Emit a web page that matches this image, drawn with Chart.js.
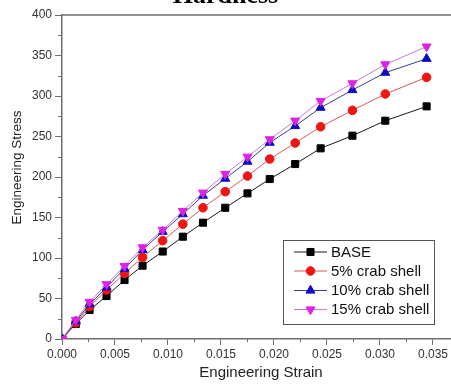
<!DOCTYPE html>
<html>
<head>
<meta charset="utf-8">
<script src="https://cdn.jsdelivr.net/npm/chart.js@4.4.1/dist/chart.umd.min.js"></script>
<style>
  html, body { margin: 0; padding: 0; background: #fff; }
  #wrap { width: 451px; height: 385px; position: relative; }
</style>
</head>
<body>
<div id="wrap"><canvas id="c" width="451" height="385"></canvas></div>
<script>
// Strain readings shared by every specimen
const strain = [0, 0.0013, 0.0026, 0.0042, 0.0059, 0.0076, 0.0095, 0.0114, 0.0133,
                0.0154, 0.0175, 0.0196, 0.0220, 0.0244, 0.0274, 0.0305, 0.0344];

// Engineering stress for each mix
const base    = [0, 18.5, 35.8, 53, 72.8, 90.5, 108, 126.3, 143.6, 162, 179.8, 197.5, 216, 235.4, 251, 269.5, 287.2];
const crab5   = [0, 20, 40, 60.5, 81, 100.8, 121.4, 141.8, 162, 181.9, 201.2, 222.2, 242, 262, 282.3, 302.5, 323];
const crab10  = [0, 21.8, 42.8, 63.8, 86.8, 109.9, 132.5, 154.2, 177, 198, 219, 242.4, 263, 285.6, 307.4, 328.8, 346];
const crab15  = [0, 23.5, 45.7, 67.5, 90, 113, 134.6, 158, 180.6, 203.7, 225, 246.5, 269.5, 293.8, 315.6, 339, 361];

// Axis tick values
const xTicks = [0, 0.005, 0.010, 0.015, 0.020, 0.025, 0.030, 0.035];
const yTicks = [0, 50, 100, 150, 200, 250, 300, 350, 400];

const seriesNames = ['BASE', '5% crab shell', '10% crab shell', '15% crab shell'];
const titleText = 'Hardness';
const xTitle = 'Engineering Strain';
const yTitle = 'Engineering Stress';

const pts = arr => arr.map((v, i) => ({ x: strain[i], y: v }));

const styles = [
  { line: '#1a1a1a', fill: '#000000', shape: 'rect',     r: 5,   rot: 0 },
  { line: '#d85a5a', fill: '#ee1515', shape: 'circle',   r: 4.3, rot: 0 },
  { line: '#3a4090', fill: '#0b0bc8', shape: 'triangle', r: 5.2, rot: 0 },
  { line: '#c47ad0', fill: '#e020e6', shape: 'triangle', r: 5.2, rot: 180 }
];
const values = [base, crab5, crab10, crab15];

const datasets = values.map((v, i) => ({
  label: seriesNames[i],
  data: pts(v),
  borderColor: styles[i].line,
  borderWidth: 1,
  pointStyle: styles[i].shape,
  pointRotation: styles[i].rot,
  pointRadius: styles[i].r,
  pointBackgroundColor: styles[i].fill,
  pointBorderColor: styles[i].fill,
  pointBorderWidth: 1,
  tension: 0,
  order: 4 - i
}));

const AXIS = '#6e6e6e';
const FONT = 'Liberation Sans, Arial, sans-serif';

// Frame, minor ticks, titles and the boxed legend
const decor = {
  id: 'decor',
  afterDraw(chart) {
    const ctx = chart.ctx;
    const a = chart.chartArea;
    const xs = chart.scales.x, ys = chart.scales.y;
    ctx.save();
    // top frame line
    ctx.strokeStyle = AXIS;
    ctx.lineWidth = 1.5;
    ctx.beginPath();
    ctx.moveTo(a.left, a.top);
    ctx.lineTo(a.right, a.top);
    ctx.stroke();
    // minor ticks halfway between the labelled ones
    ctx.lineWidth = 1;
    ctx.beginPath();
    for (let i = 0; i < xTicks.length; i++) {
      const v = xTicks[i] + 0.0025;
      if (v >= xs.max) break;
      const px = Math.round(xs.getPixelForValue(v)) + 0.5;
      ctx.moveTo(px, a.bottom);
      ctx.lineTo(px, a.bottom + 3);
    }
    for (let i = 0; i < yTicks.length - 1; i++) {
      const py = Math.round(ys.getPixelForValue(yTicks[i] + 25)) + 0.5;
      ctx.moveTo(a.left, py);
      ctx.lineTo(a.left - 4, py);
    }
    ctx.stroke();

    // chart heading
    ctx.fillStyle = '#000';
    ctx.font = 'bold 26px "Liberation Serif", "Times New Roman", serif';
    ctx.textAlign = 'center';
    ctx.textBaseline = 'alphabetic';
    ctx.fillText(titleText, 225.5, 3);

    // axis titles
    ctx.fillStyle = '#222';
    ctx.font = '15px ' + FONT;
    ctx.fillText(xTitle, 261, 377);
    ctx.save();
    ctx.translate(21, 167.5);
    ctx.rotate(-Math.PI / 2);
    ctx.font = '13.5px ' + FONT;
    ctx.fillText(yTitle, 0, 0);
    ctx.restore();

    // legend box
    const lx = 283, ly = 240, lw = 151, lh = 84;
    ctx.fillStyle = '#fff';
    ctx.fillRect(lx, ly, lw, lh);
    ctx.strokeStyle = '#555';
    ctx.lineWidth = 1;
    ctx.strokeRect(lx + 0.5, ly + 0.5, lw, lh);
    const rows = [252, 271, 290.5, 309.5];
    chart.data.datasets.forEach((ds, i) => {
      const y = rows[i];
      ctx.strokeStyle = ds.borderColor;
      ctx.lineWidth = 1;
      ctx.beginPath();
      ctx.moveTo(294, y);
      ctx.lineTo(327, y);
      ctx.stroke();
      ctx.fillStyle = ds.pointBackgroundColor;
      ctx.strokeStyle = ds.pointBorderColor;
      Chart.helpers.drawPoint(ctx, {
        pointStyle: ds.pointStyle,
        rotation: ds.pointRotation,
        radius: ds.pointRadius,
        borderWidth: 1
      }, 310.5, y);
      ctx.fillStyle = '#111';
      ctx.font = '15px ' + FONT;
      ctx.textAlign = 'left';
      ctx.textBaseline = 'middle';
      ctx.fillText(ds.label, 331, y + 0.5);
    });
    ctx.restore();
  }
};

new Chart(document.getElementById('c'), {
  type: 'line',
  data: { datasets },
  options: {
    responsive: false,
    animation: false,
    layout: { autoPadding: false, padding: { top: 15, right: 0, left: 0, bottom: 0 } },
    plugins: { legend: { display: false }, tooltip: { enabled: false }, title: { display: false } },
    scales: {
      x: {
        type: 'linear',
        min: 0,
        max: 0.0367,
        afterBuildTicks(s) { s.ticks = xTicks.map(v => ({ value: v })); },
        afterFit(s) { s.height = 46; s.paddingLeft = 0; s.paddingRight = 0; },
        border: { display: true, color: AXIS, width: 1.5 },
        grid: { display: true, drawOnChartArea: false, drawTicks: true, tickLength: 6, tickColor: AXIS },
        ticks: {
          padding: 2,
          color: '#333',
          font: { family: FONT, size: 12 },
          maxRotation: 0,
          autoSkip: false,
          callback: v => Number(v).toFixed(3)
        }
      },
      y: {
        min: 0,
        max: 400,
        afterBuildTicks(s) { s.ticks = yTicks.map(v => ({ value: v })); },
        afterFit(s) { s.width = 62; s.paddingTop = 0; s.paddingBottom = 0; },
        border: { display: true, color: AXIS, width: 1.5 },
        grid: { display: true, drawOnChartArea: false, drawTicks: true, tickLength: 7, tickColor: AXIS },
        ticks: {
          padding: 3,
          color: '#333',
          font: { family: FONT, size: 12 }
        }
      }
    }
  },
  plugins: [decor]
});
</script>
</body>
</html>
